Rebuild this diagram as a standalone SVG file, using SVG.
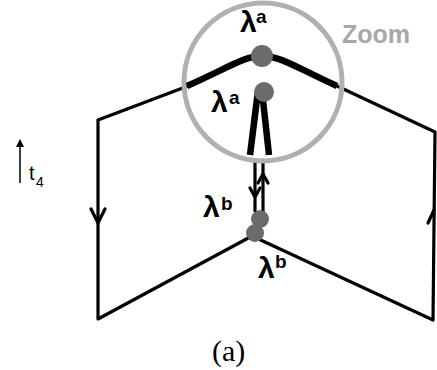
<svg xmlns="http://www.w3.org/2000/svg" width="437" height="370" viewBox="0 0 437 370">
<style>
.thin{fill:none;stroke:#000;stroke-width:3.2;stroke-linecap:round;stroke-linejoin:round}
.thick{fill:none;stroke:#000;stroke-width:6.5;stroke-linecap:butt;stroke-linejoin:round}
.dot{fill:#6b6b6b}
.sans{font-family:"Liberation Sans",Arial,sans-serif}
.lam{font-family:"Liberation Sans",Arial,sans-serif;font-weight:bold;fill:#000}
.zoom{fill:none;stroke:#b0b0b0;stroke-width:5}
</style>
<rect width="437" height="370" fill="#fff"/>
<g id="connectors">
<path class="thin" d="M188,86 L98,120 L98,319 L252,236 L433,320 L435,132 L337,86"/>
<path class="thin" d="M91,209 L98,223 L105,209"/>
<path class="thin" d="M428,223 L434,210"/>
<path class="thin" d="M255,162 L255,211"/>
<path class="thin" d="M250,188 L255,197 L260,188"/>
<path class="thin" d="M263,160 L263,217"/>
<path class="thin" d="M258,183 L263,174 L268,183"/>
<path d="M20,183 L20,146" fill="none" stroke="#000" stroke-width="1.5"/>
<path d="M16,147 L20,139 L24,147 Z" fill="#000"/>
</g>
<g id="zoom-circle">
<circle class="zoom" cx="263" cy="82" r="79"/>
<path class="thick" d="M187,86 C228,68 244,56 262,56 C281,56 297,68 337,86"/>
<path class="thick" d="M250,155 L258,91 L262,91 L269,155"/>
<circle class="dot" cx="262" cy="56" r="11"/>
<circle class="dot" cx="264" cy="92" r="10"/>
</g>
<g id="junction">
<circle class="dot" cx="260" cy="219" r="9"/>
<circle class="dot" cx="255" cy="233" r="9"/>
</g>
<g id="labels">
<text class="lam" x="240" y="32" font-size="30">λ</text><text class="lam" x="256" y="23" font-size="19">a</text>
<text class="lam" x="211" y="112" font-size="30">λ</text><text class="lam" x="229" y="104" font-size="19">a</text>
<text class="lam" x="203" y="217" font-size="30">λ</text><text class="lam" x="221" y="210" font-size="19">b</text>
<text class="lam" x="258" y="278" font-size="30">λ</text><text class="lam" x="275" y="268" font-size="19">b</text>
<text class="sans" x="342" y="43" font-weight="bold" font-size="25" fill="#a8a8a8">Zoom</text>
<text class="sans" x="29" y="180" font-size="20" fill="#000">t</text>
<text class="sans" x="36" y="187" font-size="14" fill="#000">4</text>
<text x="212" y="361" font-family="'Liberation Serif','Times New Roman',serif" font-size="30" fill="#000">(a)</text>
</g>
</svg>
